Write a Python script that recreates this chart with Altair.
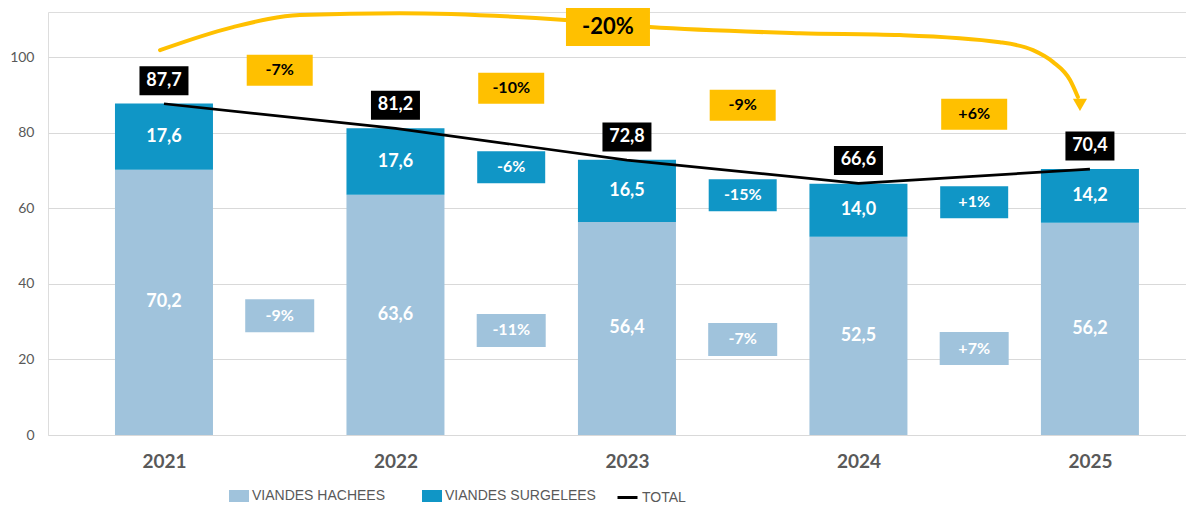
import altair as alt
import pandas as pd

# ---------------- data ----------------
years = ["2021", "2022", "2023", "2024", "2025"]
hachees = [70.2, 63.6, 56.4, 52.5, 56.2]
surgelees = [17.6, 17.6, 16.5, 14.0, 14.2]
totals = [87.7, 81.2, 72.8, 66.6, 70.4]
bar_series = ["VIANDES HACHEES", "VIANDES SURGELEES"]
line_series = ["TOTAL"]

total_change = ["-7%", "-10%", "-9%", "+6%"]
surgelees_change = ["", "-6%", "-15%", "+1%"]
hachees_change = ["-9%", "-11%", "-7%", "+7%"]
overall_change = "-20%"

# ---------------- annotation layout (y units) ----------------
total_change_level = [96.6, 91.8, 87.3, 84.9]
surgelees_change_level = [0, 70.9, 63.5, 61.6]
hachees_change_level = [31.6, 27.7, 25.3, 22.9]
arrow_x = [-0.017, 0.298, 0.587, 1.019, 1.732, 2.099, 2.747, 3.179, 3.611, 3.754, 3.840, 3.914, 3.948]
arrow_y = [101.9, 108.0, 111.2, 111.7, 109.9, 108.0, 106.4, 105.9, 104.0, 101.9, 98.8, 94.0, 89.5]
arrow_tip = [3.957, 87.4]
overall_pos = [1.918, 108.0]

# ---------------- styles ----------------
C_H = "#A0C3DC"
C_S = "#1096C6"
C_Y = "#FFC000"
GRAY = "#595959"
FONT = "Lato"
LEG_FONT = "Liberation Sans Narrow, Liberation Sans, sans-serif"


def fmt(v):
    return f"{v:.1f}".replace(".", ",")


def box(w, h):
    r = h / w
    return f"M-1,-{r:.4f}L1,-{r:.4f}L1,{r:.4f}L-1,{r:.4f}Z", w * w


n = len(years)
label_expr = "[" + ",".join(f"'{y}'" for y in years) + "][datum.value]"

xscale = alt.Scale(domain=[-0.501, 4.415], nice=False, zero=False, padding=0)
yscale = alt.Scale(domain=[0, 112], nice=False, padding=0)
xaxis = alt.Axis(values=list(range(n)), labelExpr=label_expr, title=None, grid=False,
                 ticks=False, domain=False, labelFontSize=19, labelFontWeight="bold",
                 labelColor=GRAY, labelPadding=17, labelFont=FONT)
yaxis = alt.Axis(values=[0, 20, 40, 60, 80, 100], title=None, grid=True, gridColor="#D9D9D9",
                 gridWidth=1, ticks=False, domain=False, labelFontSize=14, labelColor=GRAY,
                 labelPadding=14, labelFont=FONT)


def X(field="pos"):
    return alt.X(f"{field}:Q", scale=xscale, axis=xaxis)


def Y(field):
    return alt.Y(f"{field}:Q", scale=yscale, axis=yaxis)


rect_path = "M-1,-0.6L1,-0.6L1,0.6L-1,0.6Z"
bar_legend = alt.Legend(
    orient="none", legendX=181, legendY=474, direction="horizontal", title=None,
    symbolType=rect_path, symbolSize=400, symbolStrokeWidth=0, symbolOpacity=1,
    labelFontSize=14, labelColor=GRAY, labelFont=LEG_FONT, labelOffset=3,
    columnPadding=36, padding=0, labelLimit=300,
)
line_legend = alt.Legend(
    orient="none", legendX=568, legendY=474, direction="horizontal", title=None,
    symbolType="stroke", symbolSize=400, symbolStrokeWidth=3, symbolStrokeColor="#000000",
    labelFontSize=14, labelColor=GRAY, labelFont=LEG_FONT, labelOffset=3,
    padding=0, labelLimit=300,
)

# ---------------- tables ----------------
bar_rows = []
for i in range(n):
    bar_rows.append({"pos": i, "series": bar_series[0], "value": hachees[i], "ord": 0,
                     "mid": hachees[i] / 2, "lab": fmt(hachees[i])})
    bar_rows.append({"pos": i, "series": bar_series[1], "value": surgelees[i], "ord": 1,
                     "mid": hachees[i] + surgelees[i] / 2, "lab": fmt(surgelees[i])})
bar_df = pd.DataFrame(bar_rows)

tot_df = pd.DataFrame({"pos": list(range(n)), "total": totals,
                       "series": line_series[0], "lab": [fmt(v) for v in totals]})

gap = [i + 0.5 for i in range(n - 1)]
ych_df = pd.DataFrame({"pos": gap, "lvl": total_change_level, "lab": total_change})
sch_df = pd.DataFrame({"pos": gap, "lvl": surgelees_change_level, "lab": surgelees_change})
sch_df = sch_df[sch_df["lab"] != ""]
hch_df = pd.DataFrame({"pos": gap, "lvl": hachees_change_level, "lab": hachees_change})

arrow_df = pd.DataFrame({"ax": arrow_x, "ay": arrow_y})
tip_df = pd.DataFrame({"ax": [arrow_tip[0]], "ay": [arrow_tip[1]]})
ov_df = pd.DataFrame({"ax": [overall_pos[0]], "ay": [overall_pos[1]], "lab": [overall_change]})

# ---------------- layers ----------------
bars = alt.Chart(bar_df).mark_bar(size=98).encode(
    x=X(), y=alt.Y("value:Q", scale=yscale, axis=yaxis, stack="zero"),
    color=alt.Color("series:N", scale=alt.Scale(domain=bar_series, range=[C_H, C_S]),
                    legend=bar_legend),
    order=alt.Order("ord:Q"),
)
bar_text = alt.Chart(bar_df).mark_text(color="white", fontSize=18, fontWeight="bold",
                                       font=FONT, baseline="middle").encode(
    x=X(), y=Y("mid"), text="lab:N")

line = alt.Chart(tot_df).mark_line(strokeWidth=2.7).encode(
    x=X(), y=Y("total"),
    stroke=alt.Stroke("series:N", scale=alt.Scale(domain=line_series, range=["#000000"]),
                      legend=line_legend))

p, s = box(49, 29)
tot_box = alt.Chart(tot_df).mark_point(shape=p, size=s, filled=True, opacity=1, strokeWidth=0,
                                       color="#000000", yOffset=-23).encode(x=X(), y=Y("total"))
tot_text = alt.Chart(tot_df).mark_text(color="white", fontSize=18, fontWeight="bold", font=FONT,
                                       baseline="middle", yOffset=-23).encode(
    x=X(), y=Y("total"), text="lab:N")


def change_layer(df, fill, tcolor, w, h):
    pth, sz = box(w, h)
    b = alt.Chart(df).mark_point(shape=pth, size=sz, filled=True, opacity=1, strokeWidth=0,
                                 color=fill).encode(x=X(), y=Y("lvl"))
    t = alt.Chart(df).mark_text(color=tcolor, fontSize=16, fontWeight="bold", font=FONT,
                                baseline="middle").encode(x=X(), y=Y("lvl"), text="lab:N")
    return [b, t]


ych = change_layer(ych_df, C_Y, "#000000", 66, 31)
sch = change_layer(sch_df, C_S, "white", 68, 32)
hch = change_layer(hch_df, C_H, "white", 69, 33)

arrow = alt.Chart(arrow_df).mark_line(color=C_Y, strokeWidth=4, interpolate="monotone",
                                      strokeCap="round").encode(x=X("ax"), y=Y("ay"))
tip = alt.Chart(tip_df).mark_point(shape="triangle-down", size=200, filled=True, opacity=1,
                                   strokeWidth=0, color=C_Y).encode(x=X("ax"), y=Y("ay"))
pb, ps = box(84, 38)
ov_box = alt.Chart(ov_df).mark_point(shape=pb, size=ps, filled=True, opacity=1, strokeWidth=0,
                                     color=C_Y).encode(x=X("ax"), y=Y("ay"))
ov_text = alt.Chart(ov_df).mark_text(color="#000000", fontSize=22, fontWeight="bold", font=FONT,
                                     baseline="middle").encode(x=X("ax"), y=Y("ay"), text="lab:N")

chart = alt.layer(
    bars, bar_text, line, tot_box, tot_text, *ych, *sch, *hch, arrow, tip, ov_box, ov_text
).properties(
    width=1138, height=423,
    autosize=alt.AutoSizeParams(type="none"),
    padding={"left": 40, "top": 4, "right": 0, "bottom": 70},
).resolve_legend(color="independent", stroke="independent").configure_view(
    strokeWidth=0).configure(background="white")

chart.save("out.html", embed_options={"renderer": "svg", "actions": False})
